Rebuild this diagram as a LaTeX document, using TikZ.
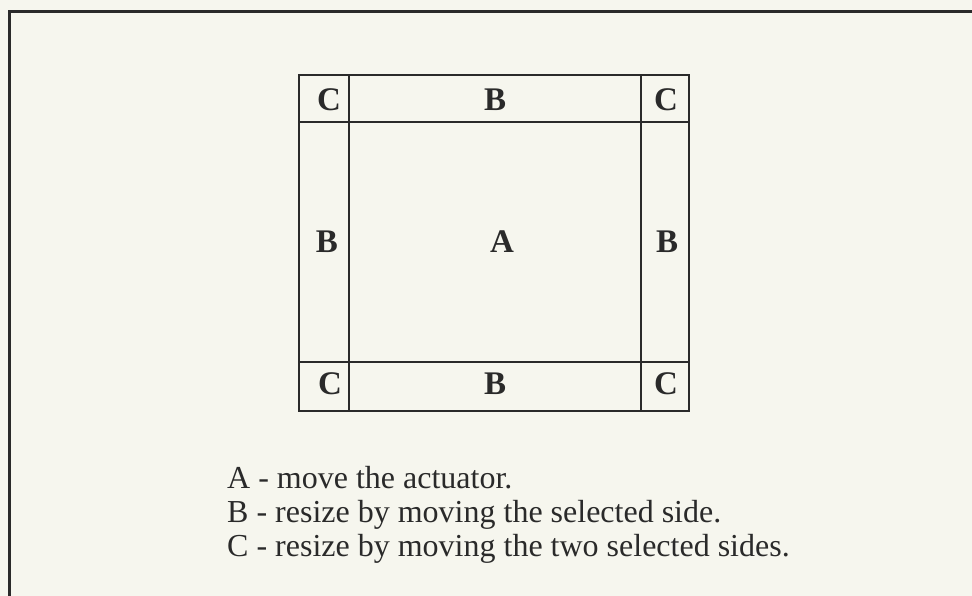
\documentclass[tikz,border=0pt]{standalone}
\usepackage{fontspec}
\setmainfont{Liberation Serif}
\definecolor{paper}{HTML}{F6F6EE}
\definecolor{ink}{HTML}{2A2A2A}
\tikzset{
  cell/.style={font=\fontsize{33}{33}\selectfont\bfseries, text=ink},
  grid/.style={draw=ink, line width=2.6pt},
  legend/.style={font=\fontsize{32}{34}\selectfont, text=ink, anchor=base west, inner sep=0pt}
}
\begin{document}
\begin{tikzpicture}[x=1pt,y=-1pt]
\fill[paper] (0,0) rectangle (972,596);
\useasboundingbox (0,0) rectangle (972,596);
\draw[draw=ink, line width=3pt] (9,600) -- (9,12) -- (980,12);
% square
\draw[grid] (299,75) rectangle (689,411);
\draw[grid] (349,75) -- (349,411);
\draw[grid] (641,75) -- (641,411);
\draw[grid] (299,122) -- (689,122);
\draw[grid] (299,362) -- (689,362);
% labels
\node[cell] (ctl) at (329,100) {C};
\node[cell] (bt) at (495,100) {B};
\node[cell] (ctr) at (666,100) {C};
\node[cell] (bl) at (327,242) {B};
\node[cell] (a) at (502,242) {A};
\node[cell] (br) at (667,242) {B};
\node[cell] (cbl) at (330,384) {C};
\node[cell] (bb) at (495,384) {B};
\node[cell] (cbr) at (666,384) {C};
% legend
\node[legend] (l1) at (227,488) {A - move the actuator.};
\node[legend] (l2) at (227,522) {B - resize by moving the selected side.};
\node[legend] (l3) at (227,556) {C - resize by moving the two selected sides.};
\end{tikzpicture}
\end{document}
